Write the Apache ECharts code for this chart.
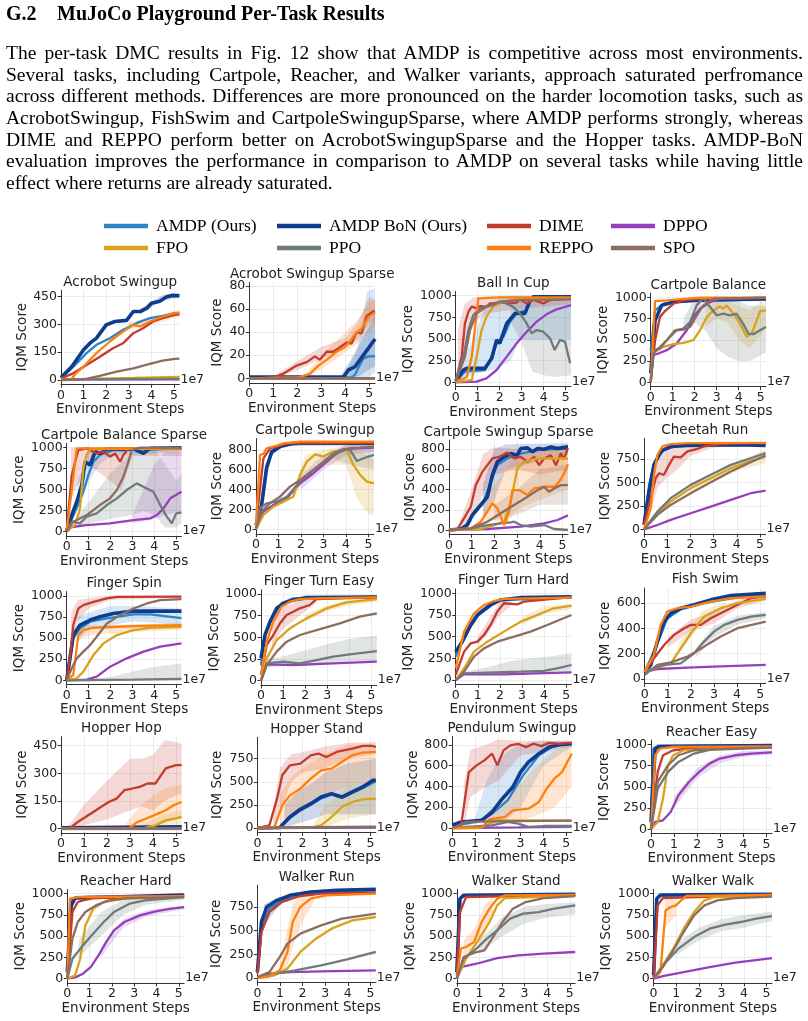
<!DOCTYPE html>
<html>
<head>
<meta charset="utf-8">
<script src="https://cdn.jsdelivr.net/npm/echarts@6/dist/echarts.min.js"></script>
<style>
  body { margin: 0; background: #fff; width: 808px; height: 1021px; overflow: hidden; position: relative; }
  #chart { position: absolute; left: 0; top: 0; width: 808px; height: 1021px; }
  .serif { position: absolute; left: 6px; width: 797px; font-family: "Liberation Serif", "Times New Roman", serif; color: #000; z-index: 2; }
  #head { top: 1px; font-size: 20px; font-weight: bold; line-height: 24px; }
  #head .num { display: inline-block; width: 51px; }
  #para { top: 42px; font-size: 19.5px; }
  #para .ln { height: 21.67px; line-height: 21.67px; text-align: justify; text-align-last: justify; }
  #para .ln.last { text-align-last: left; }
</style>
</head>
<body>
<div id="chart"></div>
<div id="head" class="serif"><span class="num">G.2</span>MuJoCo Playground Per-Task Results</div>
<div id="para" class="serif">
  <div class="ln">The per-task DMC results in Fig. 12 show that AMDP is competitive across most environments.</div>
  <div class="ln">Several tasks, including Cartpole, Reacher, and Walker variants, approach saturated perfromance</div>
  <div class="ln">across different methods. Differences are more pronounced on the harder locomotion tasks, such as</div>
  <div class="ln">AcrobotSwingup, FishSwim and CartpoleSwingupSparse, where AMDP performs strongly, whereas</div>
  <div class="ln">DIME and REPPO perform better on AcrobotSwingupSparse and the Hopper tasks. AMDP-BoN</div>
  <div class="ln">evaluation improves the performance in comparison to AMDP on several tasks while having little</div>
  <div class="ln last">effect where returns are already saturated.</div>
</div>
<script>
// methods, in plotting order
const methods = ['amdp', 'bon', 'dime', 'dppo', 'fpo', 'ppo', 'reppo', 'spo'];
const methodNames = ['AMDP (Ours)', 'AMDP BoN (Ours)', 'DIME', 'DPPO', 'FPO', 'PPO', 'REPPO', 'SPO'];
const methodColors = ['#2c84c6', '#0f3c8e', '#c33b2f', '#9440bd', '#d9a21b', '#6f7a7a', '#ff7f0e', '#8c6d62'];

const panelTitles = [
  'Acrobot Swingup', 'Acrobot Swingup Sparse', 'Ball In Cup', 'Cartpole Balance',
  'Cartpole Balance Sparse', 'Cartpole Swingup', 'Cartpole Swingup Sparse', 'Cheetah Run',
  'Finger Spin', 'Finger Turn Easy', 'Finger Turn Hard', 'Fish Swim',
  'Hopper Hop', 'Hopper Stand', 'Pendulum Swingup', 'Reacher Easy',
  'Reacher Hard', 'Walker Run', 'Walker Stand', 'Walker Walk'
];

const stepTicks = [0, 1, 2, 3, 4, 5];
const ticks1000 = [0, 250, 500, 750, 1000];
const panelYTicks = [
  [0, 150, 300, 450], [0, 20, 40, 60, 80], ticks1000, ticks1000,
  ticks1000, [0, 200, 400, 600, 800], [0, 200, 400, 600, 800], [0, 250, 500, 750],
  ticks1000, ticks1000, ticks1000, [0, 200, 400, 600],
  [0, 150, 300, 450], [0, 250, 500, 750], [0, 200, 400, 600, 800], ticks1000,
  ticks1000, [0, 250, 500, 750], ticks1000, ticks1000
];
const panelYRange = [
  [-23, 485], [-4, 83], [-50, 1050], [-50, 1050],
  [-50, 1050], [-45, 915], [-43, 890], [-48, 970],
  [-50, 1050], [-50, 1050], [-50, 1050], [-36, 720],
  [-22, 500], [-48, 980], [-44, 880], [-50, 1050],
  [-50, 1050], [-47, 980], [-50, 1050], [-50, 1050]
];

// ---- series values (x in units of 1e7 steps, y = IQM score) ----
const acrobotSwingup = {
  amdp: [[0,9],[0.55,72],[1.13,145],[1.57,190],[2.16,226],[2.75,271],[3.34,307],[3.93,334],[4.5,347],[5.03,361],[5.24,362]],
  bon: [[0,13],[0.47,72],[1.0,163],[1.28,199],[1.57,226],[2.0,298],[2.38,316],[2.9,322],[3.2,370],[3.5,370],[3.8,388],[4.0,415],[4.37,425],[4.66,448],[4.9,457],[5.24,455]],
  dime: [[0,9],[0.54,36],[1.13,81],[1.72,126],[2.3,172],[2.75,199],[3.2,253],[3.63,280],[4.07,316],[4.5,334],[5.03,352],[5.24,355]],
  dppo: [[0,2],[2,3],[5.24,4]],
  fpo: [[0,0],[1.72,7],[3.2,11],[5.24,17]],
  ppo: [[0,4],[2.5,5],[5.24,6]],
  reppo: [[0,0],[0.47,4],[0.6,27],[1.06,81],[1.57,145],[2.16,208],[2.75,262],[3.2,298],[3.5,289],[3.93,316],[4.5,343],[5.03,361],[5.24,363]],
  spo: [[0,0],[1,4],[1.72,22],[2.46,45],[3.2,63],[3.93,87],[4.5,105],[5.03,114],[5.24,115]]
};
const acrobotSwingupBands = {
  reppo: [[3,275,312],[4,298,338],[5.24,345,380]],
  bon: [[3.5,355,385],[4.5,430,460],[5.24,445,468]]
};

const acrobotSwingupSparse = {
  amdp: [[0,0.5],[4.26,1],[4.4,3],[4.54,9],[4.75,17],[4.96,19],[5.24,19]],
  bon: [[0,1],[3.92,1],[4.12,7],[4.4,10],[4.61,16],[4.89,24],[5.24,34]],
  dime: [[0,0],[1,0.5],[1.42,4],[1.97,11],[2.39,14],[2.74,19],[2.94,16],[3.22,23],[3.5,23],[3.78,27],[4.06,31],[4.26,30],[4.47,40],[4.68,39],[4.89,54],[5.17,58],[5.24,58]],
  dppo: [[0,0],[5.24,0]],
  fpo: [[0,0],[5.24,0]],
  ppo: [[0,0],[5.24,0]],
  reppo: [[0,0],[2.1,1],[2.53,4],[2.88,11],[3.22,16],[3.64,23],[3.99,27],[4.26,34],[4.47,40],[4.68,43],[4.96,53],[5.24,57]],
  spo: [[0,0],[5.24,0]]
};
const acrobotSwingupSparseBands = {
  dime: [[1,0,2],[2,7,15],[3,17,27],[4,26,35],[4.5,33,48],[5,48,70],[5.24,50,68]],
  reppo: [[2.5,1,8],[3.5,15,30],[4.5,30,50],[5,40,65],[5.24,45,68]],
  bon: [[3.8,0,2],[4.2,0,15],[4.6,2,30],[5,8,45],[5.24,10,55]],
  amdp: [[4,0,5],[4.5,0,25],[4.9,0,75],[5.24,5,78]]
};

const ballInCup = {
  amdp: [[0,8],[0.42,123],[1.33,142],[1.56,257],[1.86,450],[2.17,527],[2.47,700],[2.77,796],[3.23,834],[3.45,969],[5.24,975]],
  bon: [[0,19],[0.35,142],[0.5,161],[1.33,161],[1.64,277],[1.86,488],[2.0,450],[2.32,680],[2.7,796],[3.15,796],[3.38,950],[3.53,988],[5.24,988]],
  dime: [[0,8],[0.27,296],[0.42,680],[0.58,815],[0.73,873],[0.95,854],[1.1,880],[1.4,873],[1.56,911],[1.86,911],[2.17,930],[2.47,911],[2.77,920],[2.92,957],[3.23,911],[3.53,950],[3.98,911],[4.29,950],[5.24,969]],
  dppo: [[0,0],[0.95,8],[1.4,46],[1.86,142],[2.32,296],[2.77,450],[3.23,584],[3.68,700],[4.14,788],[4.59,842],[5.24,892]],
  fpo: [[0,0],[0.73,27],[0.95,296],[1.18,603],[1.4,758],[1.7,873],[2.17,930],[2.92,957],[5.24,969]],
  ppo: [[0,19],[0.35,296],[0.58,603],[0.8,777],[1.1,854],[1.4,873],[1.7,892],[2,930],[2.3,911],[2.6,873],[2.92,796],[3.23,680],[3.45,565],[3.68,603],[3.98,584],[4.29,508],[4.5,373],[4.74,488],[4.97,469],[5.2,219]],
  reppo: [[0,19],[0.27,35],[0.5,58],[0.73,296],[1.03,969],[2,980],[5.24,980]],
  spo: [[0,8],[0.42,296],[0.65,603],[0.95,796],[1.4,873],[2,930],[2.77,950],[5.24,957]]
};
const ballInCupBands = {
  amdp: [[0.2,0,200],[0.8,100,500],[1.3,120,850],[1.8,150,950],[2.5,250,1000],[2.9,490,1000],[5.24,490,1000]],
  ppo: [[2.5,700,960],[3,450,980],[3.5,120,980],[4,80,980],[4.5,60,950],[5.24,80,950]],
  dime: [[0.1,0,600],[0.4,300,900],[0.8,700,980],[1.5,800,990],[3,850,1000],[5.24,900,1000]]
};

const cartpoleBalance = {
  amdp: [[0,380],[0.2,846],[0.58,924],[1.64,963],[5.24,971]],
  bon: [[0,105],[0.2,729],[0.5,905],[1.03,944],[1.94,963],[5.24,983]],
  dime: [[0,27],[0.2,495],[0.42,768],[0.65,838],[1.03,924],[1.64,971],[2.5,983],[5.24,990]],
  dppo: [[0,0],[0.12,320],[0.35,339],[0.73,378],[1.18,456],[1.64,612],[1.94,768],[2.24,866],[2.7,944],[3.15,983],[5.24,995]],
  fpo: [[0,359],[0.2,359],[0.58,417],[1.03,449],[1.48,464],[1.94,495],[2.24,612],[2.55,768],[2.85,846],[3.15,893],[3.3,866],[3.45,905],[3.76,807],[4.06,690],[4.36,534],[4.59,573],[4.82,729],[4.97,838],[5.24,846]],
  ppo: [[0,380],[0.12,378],[0.42,398],[0.73,495],[1.1,612],[1.48,632],[1.79,710],[2.09,905],[2.39,995],[2.7,885],[3,788],[3.3,807],[3.6,788],[3.9,807],[4.2,690],[4.44,573],[4.67,566],[4.97,612],[5.24,651]],
  reppo: [[0,0],[0.2,955],[0.73,963],[2.24,995],[5.24,995]],
  spo: [[0,0],[0.12,339],[0.35,398],[0.73,495],[1.18,612],[1.48,620],[1.79,651],[2.09,788],[2.39,905],[2.85,983],[5.24,995]]
};
const cartpoleBalanceBands = {
  ppo: [[1.5,550,750],[2,700,1000],[2.5,600,1000],[3,400,1000],[3.5,300,1000],[4,250,950],[4.5,250,900],[5.24,350,900]],
  fpo: [[2.5,650,900],[3,750,950],[3.5,700,950],[4,500,900],[4.5,400,850],[5,550,950],[5.24,650,950]]
};

const cartpoleBalanceSparse = {
  amdp: [[0,8],[0.38,238],[0.76,476],[0.99,675],[1.22,833],[1.52,913],[2.13,972],[5.24,985]],
  bon: [[0,8],[0.23,198],[0.46,357],[0.69,556],[0.84,833],[1.07,794],[1.3,952],[1.52,932],[1.83,984],[2.5,980],[3.05,985],[3.5,932],[3.81,992],[5.24,1000]],
  dime: [[0,8],[0.23,675],[0.53,972],[0.91,992],[1.37,932],[1.68,952],[1.98,893],[2.21,932],[2.44,833],[2.59,913],[2.82,992],[5.24,990]],
  dppo: [[0,0],[0.23,56],[0.91,79],[1.98,99],[3.05,139],[3.81,159],[4.12,198],[4.42,278],[4.73,397],[5.24,476]],
  fpo: [[0,8],[0.38,79],[0.61,278],[0.76,754],[0.91,913],[1.07,984],[5.24,990]],
  ppo: [[0,8],[0.23,119],[0.61,99],[0.91,179],[1.37,218],[1.83,317],[2.29,397],[2.74,496],[3.2,575],[3.5,536],[3.96,476],[4.27,317],[4.57,179],[4.8,99],[5.0,218],[5.24,230]],
  reppo: [[0,8],[0.46,992],[5.24,995]],
  spo: [[0,8],[0.3,119],[0.91,198],[1.52,317],[1.98,397],[2.29,496],[2.59,655],[2.82,833],[2.97,972],[3.35,1000],[5.24,1000]]
};
const cartpoleBalanceSparseBands = {
  ppo: [[0.5,50,200],[1,100,350],[2,150,700],[3,200,950],[3.5,250,1000],[4,200,1000],[4.5,50,800],[5,50,600],[5.24,100,700]],
  dppo: [[3,100,200],[3.5,120,500],[4,150,800],[4.5,200,950],[5.24,250,950]],
  dime: [[0.2,400,1000],[1,800,1000],[2,600,1000],[2.5,500,1000],[3,900,1000],[5.24,900,1000]],
  amdp: [[0.5,250,600],[1,600,950],[1.5,800,1000],[2,900,1000],[5.24,950,1000]]
};

const cartpoleSwingup = {
  amdp: [[0,10],[0.25,262],[0.47,649],[0.7,766],[1.22,850],[2,860],[5.24,860]],
  bon: [[0,44],[0.25,245],[0.47,615],[0.7,783],[1.07,834],[1.66,867],[5.24,867]],
  dime: [[0,44],[0.33,716],[0.62,817],[0.92,834],[1.37,867],[5.24,870]],
  dppo: [[0,0],[0.33,178],[0.77,245],[1.37,312],[1.96,464],[2.55,565],[3.15,682],[3.59,766],[4.04,810],[4.48,817],[5.24,823]],
  fpo: [[0,0],[0.33,145],[0.77,228],[1.22,279],[1.66,329],[1.96,548],[2.26,682],[2.63,756],[3.0,733],[3.44,783],[4.04,800],[4.33,649],[4.63,548],[4.93,481],[5.24,464]],
  ppo: [[0,44],[0.18,212],[0.47,262],[0.92,279],[1.37,329],[1.96,481],[2.55,598],[3.0,682],[3.44,766],[3.89,810],[4.18,800],[4.48,689],[4.78,716],[5.24,750]],
  reppo: [[0,44],[0.18,750],[0.33,760],[0.47,817],[0.92,844],[1.22,867],[1.96,884],[5.24,884]],
  spo: [[0,10],[0.25,178],[0.62,262],[1.07,329],[1.51,430],[1.96,497],[2.55,598],[3.15,699],[3.74,783],[4.18,817],[4.63,823],[5.24,834]]
};
const cartpoleSwingupBands = {
  fpo: [[1.8,350,500],[2.2,550,750],[3,650,800],[4,650,850],[4.5,300,800],[5,150,750],[5.24,150,700]],
  ppo: [[3.5,700,800],[4.2,650,850],[5.24,600,850]],
  dppo: [[2,400,550],[3,600,750],[4,750,850],[5.24,780,860]]
};

const cartpoleSwingupSparse = {
  amdp: [[0,0],[0.66,16],[1.1,181],[1.54,296],[1.84,477],[2.13,642],[2.57,708],[3.16,757],[3.9,790],[5.24,807]],
  bon: [[0,0],[0.51,10],[0.81,49],[1.03,148],[1.4,247],[1.69,329],[1.91,543],[2.13,675],[2.43,724],[2.72,757],[3.01,741],[3.16,807],[3.46,813],[3.68,774],[3.9,807],[4.19,800],[4.49,823],[4.78,807],[5.24,823]],
  dime: [[0,0],[0.37,10],[0.66,115],[0.96,230],[1.18,444],[1.47,576],[1.69,642],[1.91,708],[2.21,724],[2.57,767],[2.87,708],[3.16,724],[3.46,675],[3.75,724],[3.97,642],[4.19,708],[4.49,741],[4.71,640],[4.93,760],[5.05,700],[5.24,810]],
  dppo: [[0,0],[1.69,10],[3.16,33],[4.19,66],[4.78,99],[5.24,145]],
  fpo: [[0,0],[1.4,10],[1.99,49],[2.43,82],[2.72,280],[3.01,609],[3.31,675],[3.75,701],[4.19,708],[5.24,708]],
  ppo: [[0,0],[0.96,16],[1.69,49],[2.28,66],[2.72,76],[2.87,82],[3.16,49],[3.6,33],[4.19,49],[4.63,10],[5.24,0]],
  reppo: [[0,0],[0.96,16],[1.4,82],[1.69,181],[1.91,263],[2.13,214],[2.43,49],[2.65,181],[2.79,395],[3.09,395],[3.46,346],[3.75,411],[4.19,428],[4.63,428],[4.85,477],[5.07,560],[5.24,650]],
  spo: [[0,0],[0.96,16],[1.69,82],[2.28,165],[2.87,247],[3.46,329],[3.9,395],[4.19,428],[4.41,378],[4.63,411],[4.93,444],[5.24,444]]
};
const cartpoleSwingupSparseBands = {
  dime: [[0.5,0,100],[1,100,400],[1.5,350,750],[2,550,820],[3,600,800],[4,550,800],[5.24,600,850]],
  reppo: [[1.5,50,300],[2,100,450],[2.5,50,600],[3,200,750],[4,300,800],[5.24,400,800]],
  spo: [[2,100,250],[3,150,400],[4,250,600],[5.24,250,650]],
  bon: [[1.5,100,450],[2,300,800],[2.5,600,850],[5.24,750,860]]
};

const cheetahRun = {
  amdp: [[0,80],[0.22,473],[0.43,704],[0.86,846],[1.44,892],[5.24,900]],
  bon: [[0,46],[0.22,402],[0.43,686],[0.72,829],[1.15,882],[1.87,892],[4.03,900],[5.24,892]],
  dime: [[0,46],[0.29,331],[0.5,544],[0.65,597],[0.86,580],[1.08,686],[1.29,775],[1.58,765],[1.87,829],[2.3,857],[2.59,882],[3.31,907],[4.03,917],[5.24,917]],
  dppo: [[0,0],[0.58,46],[1.15,100],[2.01,171],[2.88,242],[3.74,313],[4.6,384],[5.24,412]],
  fpo: [[0,0],[0.58,171],[1.15,295],[2.01,437],[2.88,544],[3.74,651],[4.6,729],[5.24,775]],
  ppo: [[0,0],[0.58,188],[1.15,331],[2.01,473],[2.88,580],[3.74,686],[4.6,757],[5.24,811]],
  reppo: [[0,0],[0.29,224],[0.43,580],[0.58,793],[0.79,882],[1.15,907],[1.87,917],[5.24,920]],
  spo: [[0,0],[0.58,153],[1.15,260],[2.01,384],[2.88,501],[3.74,615],[4.6,715],[5.24,786]]
};
const cheetahRunBands = {
  dime: [[0.3,200,500],[0.6,450,750],[1,550,850],[1.5,650,900],[2,780,900],[3,870,930],[5.24,890,930]],
  fpo: [[2,400,480],[3,500,600],[4,620,720],[5.24,700,850]]
};

const fingerSpin = {
  amdp: [[0,0],[0.3,496],[0.61,614],[1.07,693],[1.83,732],[3.05,780],[3.81,780],[5.24,735]],
  bon: [[0,0],[0.15,260],[0.3,535],[0.61,654],[1.07,713],[1.52,752],[2.13,791],[3.05,819],[5.24,819]],
  dime: [[0,0],[0.15,260],[0.3,654],[0.53,850],[0.76,890],[1.22,929],[1.83,969],[2.29,988],[5.24,990]],
  dppo: [[0,0],[0.91,8],[1.37,43],[1.98,161],[2.74,260],[3.51,339],[4.27,398],[5.24,437]],
  fpo: [[0,0],[0.46,24],[0.76,102],[1.22,299],[1.68,437],[2.29,535],[3.05,594],[3.81,622],[5.24,634]],
  ppo: [[0,0],[3.05,8],[5.24,16]],
  reppo: [[0,0],[0.3,63],[0.53,535],[0.76,594],[1.22,622],[2.29,634],[3.81,646],[5.24,654]],
  spo: [[0,0],[0.23,142],[0.46,260],[0.76,339],[1.07,417],[1.37,516],[1.83,673],[2.44,772],[3.05,850],[3.66,909],[4.27,949],[5.24,961]]
};
const fingerSpinBands = {
  ppo: [[0.5,0,5],[2,0,40],[3,0,100],[4,0,160],[5.24,0,200]],
  amdp: [[0.5,450,750],[1,600,800],[2,650,880],[3,700,880],[4,680,870],[5.24,650,850]],
  dime: [[0.2,300,800],[0.5,700,950],[1,850,970],[2,950,1000],[5.24,980,1000]],
  reppo: [[0.6,500,650],[1.5,550,650],[5.24,600,680]]
};

const fingerTurnEasy = {
  amdp: [[0,181],[0.18,527],[0.48,719],[0.93,892],[1.46,950],[5.24,970]],
  bon: [[0,258],[0.18,527],[0.41,681],[0.71,835],[1.01,892],[1.46,931],[2.06,958],[5.24,965]],
  dime: [[0,65],[0.26,412],[0.56,527],[0.86,662],[1.16,758],[1.46,796],[1.76,835],[2.21,873],[2.51,942],[5.24,965]],
  dppo: [[0,0],[0.26,188],[1.46,181],[3.27,200],[5.24,219]],
  fpo: [[0,0],[0.26,258],[0.71,469],[1.31,604],[2.06,719],[2.97,835],[3.87,904],[5.24,942]],
  ppo: [[0,0],[0.26,200],[1.01,219],[1.76,200],[2.51,238],[3.27,277],[4.02,304],[5.24,342]],
  reppo: [[0,65],[0.26,450],[0.56,681],[0.93,854],[1.31,911],[1.76,942],[2.51,950],[5.24,960]],
  spo: [[0,0],[0.26,181],[0.71,335],[1.16,450],[1.76,527],[2.67,596],[3.57,662],[4.47,738],[5.24,777]]
};
const fingerTurnEasyBands = {
  ppo: [[0.3,150,250],[1,170,280],[2,170,350],[3,200,420],[4,220,480],[5.24,230,520]],
  dime: [[0.5,400,650],[1,600,850],[1.5,700,900],[2,800,950],[2.5,900,980]],
  fpo: [[2,680,760],[3,800,870],[4,870,940],[5.24,910,960]]
};

const fingerTurnHard = {
  amdp: [[0,269],[0.38,519],[0.83,673],[1.13,788],[1.58,885],[2.03,923],[5.24,950]],
  bon: [[0,327],[0.3,442],[0.68,635],[0.98,750],[1.28,808],[1.58,865],[2.03,923],[2.94,950],[5.24,960]],
  dime: [[0,58],[0.38,327],[0.68,423],[0.98,442],[1.28,519],[1.58,635],[1.88,788],[2.18,885],[2.79,873],[3.09,904],[5.24,955]],
  dppo: [[0,0],[0.38,65],[2.18,65],[3.69,77],[5.24,88]],
  fpo: [[0,0],[0.38,135],[0.83,327],[1.43,442],[2.18,558],[2.94,673],[3.69,750],[4.44,827],[5.24,858]],
  ppo: [[0,0],[0.38,77],[1.43,85],[2.94,96],[3.99,104],[4.59,135],[5.24,173]],
  reppo: [[0,135],[0.38,558],[0.83,769],[1.28,865],[1.73,911],[2.18,935],[5.24,950]],
  spo: [[0,0],[0.38,96],[0.83,269],[1.28,365],[1.88,442],[2.64,500],[3.39,558],[4.14,635],[5.24,750]]
};
const fingerTurnHardBands = {
  ppo: [[0.5,60,100],[1.5,70,150],[2.5,75,220],[3.5,80,250],[4.5,90,280],[5.24,100,310]],
  dime: [[1,400,500],[1.5,550,700],[2,750,900],[2.5,850,920]],
  fpo: [[3,640,720],[4,760,850],[5.24,820,880]]
};

const fishSwim = {
  amdp: [[0,58],[0.55,280],[0.98,481],[1.56,550],[2.57,600],[4.02,645],[5.24,660]],
  bon: [[0,58],[0.26,111],[0.55,296],[0.84,454],[1.13,520],[1.56,560],[2.14,587],[2.86,626],[3.73,660],[5.24,679]],
  dime: [[0,58],[0.4,164],[0.84,269],[1.27,349],[1.71,402],[2.0,428],[2.43,428],[2.86,481],[3.44,534],[4.02,587],[4.6,639],[5.24,653]],
  dppo: [[0,58],[0.55,79],[1.85,90],[3.29,100],[5.24,111]],
  fpo: [[0,58],[0.69,98],[1.13,124],[1.56,243],[2.0,362],[2.57,494],[3.29,560],[4.02,600],[5.24,634]],
  ppo: [[0,58],[0.84,111],[1.56,124],[2.14,203],[2.57,296],[3.0,375],[3.44,428],[4.02,468],[4.6,494],[5.24,507]],
  reppo: [[0,58],[0.4,190],[0.69,428],[0.98,534],[1.42,560],[2.0,573],[2.86,613],[3.73,639],[5.24,653]],
  spo: [[0,32],[0.55,111],[1.13,132],[1.85,177],[2.57,256],[3.29,336],[4.02,402],[5.24,454]]
};
const fishSwimBands = {
  dime: [[1,250,330],[2,380,470],[3,440,530],[4,560,620],[5.24,620,680]],
  ppo: [[2.2,170,240],[3,330,420],[4,430,500],[5.24,480,530]],
  fpo: [[1.5,200,290],[2.5,450,540],[3.5,560,610]]
};

const hopperHop = {
  amdp: [[0,5],[5.24,8]],
  bon: [[0,5],[5.24,10]],
  dime: [[0,0],[0.38,4],[0.72,36],[1.06,63],[1.4,91],[1.73,118],[2.07,145],[2.41,163],[2.75,209],[3.09,218],[3.42,227],[3.76,245],[4.1,245],[4.55,327],[5.0,345],[5.24,345]],
  dppo: [[0,0],[5.24,0]],
  fpo: [[0,0],[3.65,4],[4.1,18],[4.55,45],[5.24,63]],
  ppo: [[0,2],[5.24,3]],
  reppo: [[0,0],[2.97,4],[3.31,36],[3.76,58],[4.21,82],[4.55,100],[4.89,127],[5.24,145]],
  spo: [[0,1],[5.24,2]]
};
const hopperHopBands = {
  dime: [[0.3,0,10],[1,20,130],[2,50,260],[3,100,380],[3.5,120,380],[4,100,400],[4.5,150,480],[5,180,470],[5.24,190,460]],
  reppo: [[2.8,0,30],[3.5,10,130],[4,20,180],[4.5,30,220],[5.24,60,240]],
  fpo: [[3.5,0,20],[4.5,0,80],[5.24,10,100]],
  bon: [[0,-10,10],[5.24,-10,15]]
};

const hopperStand = {
  amdp: [[0,0],[0.99,5],[1.44,110],[1.9,190],[2.36,250],[2.82,320],[3.28,360],[3.74,325],[4.2,380],[4.66,430],[5.24,505]],
  bon: [[0,0],[0.99,5],[1.44,119],[1.9,202],[2.36,263],[2.82,335],[3.28,372],[3.74,335],[4.2,390],[4.66,444],[5.11,516],[5.24,516]],
  dime: [[0,0],[0.53,29],[0.87,317],[1.1,570],[1.44,678],[1.9,696],[2.36,786],[2.71,804],[3.05,768],[3.51,822],[4.2,858],[4.66,887],[5.11,887],[5.24,875]],
  dppo: [[0,0],[5.24,5]],
  fpo: [[0,0],[2.36,3],[2.82,29],[3.28,119],[3.74,227],[4.2,281],[4.66,310],[5.24,317]],
  ppo: [[0,3],[5.24,8]],
  reppo: [[0,0],[0.76,11],[1.1,245],[1.44,353],[1.9,426],[2.36,534],[2.82,624],[3.28,642],[3.74,714],[4.2,786],[4.66,815],[5.24,822]],
  spo: [[0,5],[5.24,15]]
};
const hopperStandBands = {
  dime: [[0.7,0,200],[1,150,650],[1.5,500,800],[2,600,820],[3,650,880],[4,750,920],[5.24,800,930]],
  reppo: [[1,0,350],[1.5,150,550],[2,200,650],[3,350,800],[4,450,900],[5.24,500,900]],
  bon: [[1.2,0,250],[1.8,50,400],[2.5,100,500],[3,150,600],[4,150,700],[5.24,150,750]],
  fpo: [[2.5,0,50],[3,0,250],[4,100,450],[5.24,150,500]]
};

const pendulumSwingup = {
  amdp: [[0,19],[1.07,58],[1.75,138],[2.43,266],[3.11,506],[3.8,698],[4.48,794],[5.24,810]],
  bon: [[0,26],[0.39,58],[1.3,74],[1.75,154],[2.2,282],[2.66,394],[3.0,538],[3.34,634],[3.8,714],[4.25,778],[4.7,800],[5.24,810]],
  dime: [[0,0],[0.39,26],[0.73,538],[1.07,602],[1.41,650],[1.75,714],[1.98,602],[2.25,746],[2.55,794],[2.89,810],[3.23,778],[3.57,810],[3.91,787],[4.25,819],[4.7,810],[5.24,819]],
  dppo: [[0,0],[2.89,6],[5.24,13]],
  fpo: [[0,0],[1.07,0],[1.52,26],[1.98,74],[5.24,70]],
  ppo: [[0,0],[0.61,10],[1.75,26],[2.43,58],[2.89,42],[3.34,10],[4.02,19],[5.24,19]],
  reppo: [[0,0],[1.3,6],[1.64,83],[2.32,106],[2.66,170],[3.34,186],[3.8,250],[4.14,378],[4.48,474],[4.82,538],[5.24,714]],
  spo: [[0,0],[0.61,58],[1.75,64],[5.24,70]]
};
const pendulumSwingupBands = {
  amdp: [[1,40,100],[1.5,50,450],[2,50,650],[2.5,100,750],[3,200,800],[3.5,400,830],[4,600,840],[5.24,780,840]],
  dime: [[0.5,0,400],[0.8,300,750],[1.5,400,800],[2,450,850],[3,700,840],[5.24,780,840]],
  reppo: [[1.5,0,150],[2.5,50,300],[3.5,100,550],[4.5,200,750],[5.24,400,800]]
};

const reacherEasy = {
  amdp: [[0,283],[0.11,950],[0.29,981],[5.24,990]],
  bon: [[0,86],[0.18,950],[0.4,975],[5.24,985]],
  dime: [[0,0],[0.29,675],[0.52,871],[0.96,930],[1.64,950],[5.24,965]],
  dppo: [[0,0],[0.18,86],[0.52,106],[0.85,204],[1.19,400],[1.64,557],[2.09,675],[2.53,773],[2.98,832],[3.65,871],[4.33,891],[5.24,905]],
  fpo: [[0,0],[0.29,86],[0.52,361],[0.74,754],[0.96,871],[1.41,930],[5.24,970]],
  ppo: [[0,0],[0.29,479],[0.74,675],[1.19,793],[1.86,891],[2.76,950],[5.24,965]],
  reppo: [[0,0],[0.18,871],[0.4,950],[0.96,969],[5.24,975]],
  spo: [[0,0],[0.29,557],[0.74,754],[1.19,871],[1.86,930],[5.24,960]]
};
const reacherEasyBands = {
  dppo: [[1,250,380],[2,600,720],[3,780,870],[4,850,920],[5.24,880,930]]
};

const reacherHard = {
  amdp: [[0,78],[0.12,863],[0.23,941],[0.7,961],[5.24,980]],
  bon: [[0,78],[0.18,863],[0.35,950],[5.24,985]],
  dime: [[0,0],[0.23,784],[0.47,902],[0.7,922],[1.16,949],[5.24,975]],
  dppo: [[0,0],[0.35,16],[0.7,59],[1.05,137],[1.4,275],[1.74,431],[2.09,569],[2.56,667],[3.26,745],[3.95,792],[4.65,824],[5.24,843]],
  fpo: [[0,0],[0.35,39],[0.58,235],[0.81,627],[1.16,824],[1.63,902],[2.56,941],[5.24,965]],
  ppo: [[0,0],[0.23,235],[0.7,392],[1.16,529],[1.63,667],[2.09,784],[2.79,882],[3.49,922],[5.24,960]],
  reppo: [[0,0],[0.12,941],[0.47,961],[5.24,970]],
  spo: [[0,0],[0.23,471],[0.47,667],[0.81,784],[1.28,863],[1.86,922],[2.79,949],[5.24,960]]
};
const reacherHardBands = {
  ppo: [[0.5,250,450],[1.5,500,780],[2.5,750,930],[3.5,870,960],[5.24,930,980]],
  dppo: [[1.5,250,350],[2.5,600,700],[3.5,730,800],[5.24,820,860]]
};

const walkerRun = {
  amdp: [[0,63],[0.18,520],[0.53,732],[1.1,820],[1.9,873],[2.82,900],[5.24,926]],
  bon: [[0,63],[0.18,592],[0.41,750],[0.87,820],[1.44,873],[2.36,908],[3.51,926],[5.24,937]],
  dime: [[0,46],[0.18,486],[0.53,697],[1.1,803],[1.9,866],[2.82,891],[5.24,901]],
  dppo: [[0,0],[0.53,46],[1.44,63],[2.82,70],[5.24,81]],
  fpo: [[0,0],[0.76,28],[1.33,99],[1.9,275],[2.59,415],[3.28,521],[4.2,609],[5.24,644]],
  ppo: [[0,10],[0.76,46],[1.67,81],[2.82,134],[3.97,197],[5.24,275]],
  reppo: [[0,0],[0.53,21],[0.99,81],[1.33,275],[1.56,592],[1.9,750],[2.36,838],[3.05,873],[5.24,891]],
  spo: [[0,10],[0.53,63],[0.99,222],[1.33,363],[1.9,468],[2.82,556],[3.74,627],[5.24,680]]
};
const walkerRunBands = {
  reppo: [[1,40,150],[1.3,100,500],[1.6,350,800],[2,600,880],[2.5,800,900]],
  bon: [[0.3,550,780],[1,780,860]]
};

const walkerStand = {
  amdp: [[0,78],[0.14,941],[0.3,980],[5.24,990]],
  bon: [[0,78],[0.14,941],[0.3,980],[5.24,992]],
  dime: [[0,39],[0.14,784],[0.41,961],[5.24,985]],
  dppo: [[0,0],[0.18,137],[0.87,176],[1.79,243],[2.71,275],[3.85,294],[5.24,314]],
  fpo: [[0,0],[0.41,235],[0.99,471],[1.45,667],[1.79,863],[2.13,949],[5.24,975]],
  ppo: [[0,0],[0.3,235],[0.87,353],[1.33,471],[1.79,569],[2.36,706],[2.94,765],[3.62,784],[4.31,824],[5.24,863]],
  reppo: [[0,0],[0.18,353],[0.41,373],[0.76,431],[1.1,667],[1.45,824],[1.79,941],[2.13,980],[5.24,985]],
  spo: [[0,0],[0.3,255],[0.87,314],[1.22,333],[1.56,471],[2.02,667],[2.48,824],[3.05,902],[3.85,949],[5.24,972]]
};
const walkerStandBands = {
  ppo: [[1,300,450],[2,500,720],[3,650,850],[4,720,880],[5.24,760,900]],
  reppo: [[0.3,250,450],[0.8,350,600],[1.2,500,850],[1.6,750,980]]
};

const walkerWalk = {
  amdp: [[0,39],[0.14,941],[0.3,980],[5.24,990]],
  bon: [[0,39],[0.14,941],[0.3,985],[5.24,992]],
  dime: [[0,0],[0.18,863],[0.41,949],[5.24,985]],
  dppo: [[0,0],[0.41,31],[1.33,78],[2.48,137],[3.62,188],[5.24,243]],
  fpo: [[0,0],[0.41,157],[0.87,353],[1.33,588],[1.79,784],[2.25,922],[2.71,961],[5.24,975]],
  ppo: [[0,0],[0.41,157],[1.1,353],[1.79,490],[2.48,588],[3.17,635],[3.85,667],[4.54,706],[5.24,737]],
  reppo: [[0,0],[0.3,78],[0.53,804],[0.76,843],[0.99,863],[1.22,922],[1.45,973],[5.24,985]],
  spo: [[0,0],[0.41,137],[0.87,333],[1.33,549],[1.79,745],[2.25,863],[2.82,922],[3.62,949],[5.24,965]]
};
const walkerWalkBands = {
  ppo: [[1,280,420],[2,450,600],[3,560,700],[4,600,750],[5.24,680,790]],
  reppo: [[0.5,600,950],[1,750,980]]
};

const panelData = [
  acrobotSwingup, acrobotSwingupSparse, ballInCup, cartpoleBalance,
  cartpoleBalanceSparse, cartpoleSwingup, cartpoleSwingupSparse, cheetahRun,
  fingerSpin, fingerTurnEasy, fingerTurnHard, fishSwim,
  hopperHop, hopperStand, pendulumSwingup, reacherEasy,
  reacherHard, walkerRun, walkerStand, walkerWalk
];
const panelBands = [
  acrobotSwingupBands, acrobotSwingupSparseBands, ballInCupBands, cartpoleBalanceBands,
  cartpoleBalanceSparseBands, cartpoleSwingupBands, cartpoleSwingupSparseBands, cheetahRunBands,
  fingerSpinBands, fingerTurnEasyBands, fingerTurnHardBands, fishSwimBands,
  hopperHopBands, hopperStandBands, pendulumSwingupBands, reacherEasyBands,
  reacherHardBands, walkerRunBands, walkerStandBands, walkerWalkBands
];

// ---- layout: pixel of x=0, px per 1e7 steps, pixel of y=0, px per score unit, y-label distance ----
const X_MAX = 5.24;
const panelLayout = [
  [61, 22.6, 380, 0.1851, 38], [249.3, 24.0, 378.3, 1.155, 33], [455.7, 22.0, 382.3, 0.0866, 41], [650.7, 22.0, 382.3, 0.085, 40],
  [66.7, 21.9, 531.7, 0.084, 44], [256, 22.5, 529.3, 0.0992, 40], [449, 22.7, 530, 0.101, 39], [644, 23.2, 529.3, 0.0939, 38],
  [66.7, 21.9, 680.3, 0.0845, 44], [261, 22.1, 680.7, 0.0867, 43], [455.7, 22.1, 680, 0.0867, 43], [644.7, 23.1, 679, 0.1264, 38],
  [61.1, 23.0, 828.7, 0.1844, 39], [257.4, 22.6, 828, 0.0925, 41], [452.2, 22.8, 828, 0.104, 38], [651, 23.1, 829.3, 0.085, 39],
  [67.3, 22.3, 978.7, 0.085, 45], [257.4, 22.6, 978, 0.0947, 42], [456.8, 22.6, 978.7, 0.085, 43], [653.6, 22.6, 978.7, 0.085, 41]
];
const legendPos = [[104, 217], [277, 217], [487, 217], [611, 217], [104, 239], [277, 239], [487, 239], [611, 239]];

const SANS = '"DejaVu Sans", sans-serif';
const axisColor = '#333';
const gridColor = '#e6e6e6';

const chart = echarts.init(document.getElementById('chart'), null, { renderer: 'canvas' });

const grid = [], xAxis = [], yAxis = [], series = [], graphic = [];

panelTitles.forEach((title, i) => {
  const [x0, ppu, y0, ppv, nameDist] = panelLayout[i];
  const [ymin, ymax] = panelYRange[i];
  const left = x0;
  const width = X_MAX * ppu;
  const top = y0 - ymax * ppv;
  const height = (ymax - ymin) * ppv;

  grid.push({ left, top, width, height, outerBoundsMode: 'none' });

  xAxis.push({
    type: 'value', gridIndex: i, min: 0, max: X_MAX,
    name: 'Environment Steps', nameLocation: 'middle', nameGap: 18,
    nameTextStyle: { fontFamily: SANS, fontSize: 13.5, color: '#222' },
    axisLine: { onZero: false, lineStyle: { color: axisColor, width: 1 } },
    axisTick: { customValues: stepTicks, length: 3.5, lineStyle: { color: axisColor } },
    axisLabel: { customValues: stepTicks, margin: 4.5, fontFamily: SANS, fontSize: 12.5, color: '#222', formatter: v => String(v) },
    splitLine: { show: true, lineStyle: { color: gridColor, width: 0.8 } }
  });

  yAxis.push({
    type: 'value', gridIndex: i, min: ymin, max: ymax,
    name: 'IQM Score', nameLocation: 'middle', nameGap: nameDist - 8,
    nameTextStyle: { fontFamily: SANS, fontSize: 13.5, color: '#222' },
    axisLine: { show: true, onZero: false, lineStyle: { color: axisColor, width: 1 } },
    axisTick: { show: true, customValues: panelYTicks[i], length: 3.5, lineStyle: { color: axisColor } },
    axisLabel: { customValues: panelYTicks[i], margin: 4, fontFamily: SANS, fontSize: 12.5, color: '#222', formatter: v => String(v) },
    splitLine: { show: true, lineStyle: { color: gridColor, width: 0.8 } }
  });

  graphic.push({
    type: 'text', x: left + width / 2, y: top - 8, silent: true,
    style: { text: title, font: '13.5px ' + SANS, fill: '#222', align: 'center', verticalAlign: 'middle' }
  });
  graphic.push({
    type: 'text', x: left + width + 1, y: top + height - 5, silent: true,
    style: { text: '1e7', font: '12.5px ' + SANS, fill: '#222', align: 'left', verticalAlign: 'middle' }
  });

  const bands = panelBands[i];
  methods.forEach((m, k) => {
    const band = bands[m];
    if (!band) return;
    series.push({
      type: 'custom', xAxisIndex: i, yAxisIndex: i, silent: true, z: 1,
      data: [[0, 0]],
      renderItem: (params, api) => {
        const upper = band.map(d => api.coord([d[0], d[2]]));
        const lower = band.map(d => api.coord([d[0], d[1]])).reverse();
        return {
          type: 'polygon',
          shape: { points: upper.concat(lower) },
          style: { fill: echarts.color.modifyAlpha(methodColors[k], 0.2) }
        };
      }
    });
  });

  methods.forEach((m, k) => {
    series.push({
      type: 'line', name: methodNames[k], xAxisIndex: i, yAxisIndex: i,
      data: panelData[i][m], showSymbol: false, symbol: 'none', z: 3,
      lineStyle: { color: methodColors[k], width: m === 'bon' ? 3.6 : 2.3 },
      itemStyle: { color: methodColors[k] }
    });
  });
});

const legend = methodNames.map((name, k) => ({
  data: [name], left: legendPos[k][0], top: legendPos[k][1],
  icon: 'rect', itemWidth: 44, itemHeight: 4.5, padding: 0, selectedMode: false,
  textStyle: { fontFamily: '"Liberation Serif", serif', fontSize: 17.5, color: '#000', padding: [0, 0, 0, 3] }
}));

chart.setOption({
  animation: false,
  backgroundColor: '#fff',
  legend,
  grid,
  xAxis,
  yAxis,
  graphic,
  series
});
</script>
</body>
</html>
